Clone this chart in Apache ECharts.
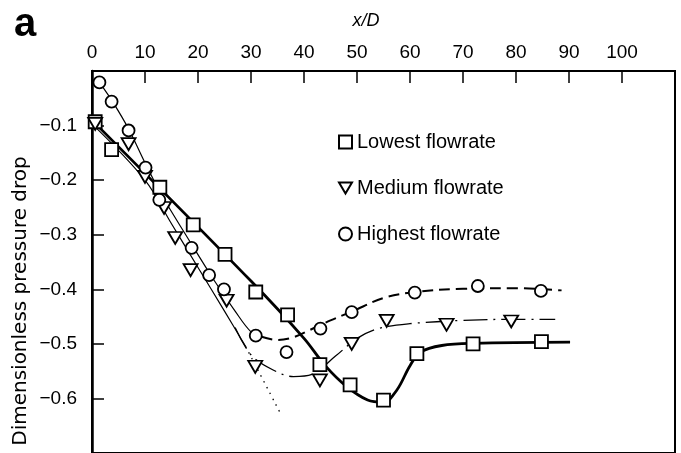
<!DOCTYPE html>
<html>
<head>
<meta charset="utf-8">
<script src="https://cdn.jsdelivr.net/npm/echarts@6/dist/echarts.min.js"></script>
<style>
  html, body { margin: 0; padding: 0; background: #fff; }
  #chart { width: 681px; height: 453px; }
</style>
</head>
<body>
<div id="chart"></div>
<script>
// measured points (x/D, pressure drop)
var lowX = [0.6, 3.7, 12.8, 19.1, 25.1, 30.9, 36.9, 43.0, 48.7, 55.0, 61.3, 71.9, 84.8];
var lowY = [-0.093, -0.144, -0.213, -0.282, -0.336, -0.405, -0.447, -0.538, -0.575, -0.603, -0.518, -0.500, -0.496];

var medX = [0.6, 6.9, 10.0, 13.6, 15.7, 18.6, 25.4, 30.8, 43.0, 49.0, 55.6, 66.9, 79.1];
var medY = [-0.097, -0.134, -0.194, -0.251, -0.306, -0.365, -0.421, -0.542, -0.567, -0.500, -0.458, -0.465, -0.459];

var highX = [1.4, 3.7, 6.9, 10.1, 12.7, 18.8, 22.1, 24.9, 30.9, 36.7, 43.1, 49.0, 60.9, 72.8, 84.7];
var highY = [-0.021, -0.056, -0.109, -0.177, -0.236, -0.324, -0.374, -0.400, -0.485, -0.515, -0.472, -0.442, -0.406, -0.394, -0.403];

// hand drawn fit curves
var lowCurve = [[0, -0.09], [30, -0.385], [40, -0.49], [44, -0.54], [48, -0.578], [52, -0.603], [55, -0.607],
  [57.5, -0.585], [60, -0.54], [62, -0.515], [66, -0.503], [72, -0.499], [90.2, -0.497]];
var highCurveSolid = [[1.4, -0.021], [4, -0.058], [7, -0.108], [10, -0.168], [13, -0.225], [18, -0.305],
  [23, -0.383], [27, -0.44], [30, -0.478], [32, -0.487]];
var highCurveDash = [[32, -0.487], [35, -0.493], [38, -0.488], [41, -0.475], [45, -0.457], [49, -0.441],
  [55, -0.416], [61, -0.405], [70, -0.399], [80, -0.398], [88.6, -0.402]];
var medCurveSolid = [[0, -0.097], [10, -0.2], [15, -0.28], [20, -0.36], [25, -0.44], [29, -0.505]];
var medCurveDot = [[29, -0.505], [35.8, -0.632]];
var medCurveDashDot = [[27, -0.47], [30, -0.52], [34, -0.547], [38, -0.56], [41.5, -0.556], [46, -0.522],
  [50, -0.49], [54, -0.472], [60, -0.463], [70, -0.457], [80, -0.455], [87.4, -0.455]];

var xTicks = [0, 10, 20, 30, 40, 50, 60, 70, 80, 90, 100];
var yTicks = [-0.1, -0.2, -0.3, -0.4, -0.5, -0.6];

var FONT = 'Liberation Sans';

function zip(xs, ys) {
    return xs.map(function (x, i) { return [x, ys[i]]; });
}

function curve(data, width, type) {
    return {
        type: 'line',
        data: data,
        showSymbol: false,
        smooth: 0.35,
        silent: true,
        z: 2,
        lineStyle: { color: '#000', width: width, type: type }
    };
}

function marks(name, xs, ys, symbol, size, rotate) {
    return {
        name: name,
        type: 'scatter',
        data: zip(xs, ys),
        symbol: symbol,
        symbolSize: size,
        symbolRotate: rotate || 0,
        z: 5,
        itemStyle: { color: '#fff', borderColor: '#000', borderWidth: 1.8, opacity: 1 }
    };
}

var chart = echarts.init(document.getElementById('chart'));

chart.setOption({
    animation: false,
    backgroundColor: '#fff',
    grid: {
        left: 92, right: 6, top: 71, bottom: -2,
        show: true, borderColor: '#000', borderWidth: 2
    },
    xAxis: {
        type: 'value',
        position: 'top',
        min: 0, max: 110, interval: 10,
        axisLine: { show: true, lineStyle: { color: '#000', width: 2 } },
        axisTick: { show: true, inside: true, length: 12, lineStyle: { color: '#000', width: 1.5 } },
        axisLabel: {
            margin: 9, color: '#000', fontFamily: FONT, fontSize: 19,
            formatter: function (v) { return xTicks.indexOf(v) >= 0 ? String(v) : ''; }
        },
        splitLine: { show: false }
    },
    yAxis: {
        type: 'value',
        min: -0.7, max: 0, interval: 0.1,
        axisLine: { show: true, lineStyle: { color: '#000', width: 2.5 } },
        axisTick: { show: true, inside: true, length: 12, lineStyle: { color: '#000', width: 1.5 } },
        axisLabel: {
            margin: 15, color: '#000', fontFamily: FONT, fontSize: 19,
            formatter: function (v) {
                var r = Math.round(v * 10) / 10;
                return yTicks.indexOf(r) >= 0 ? '\u2212' + Math.abs(r).toFixed(1) : '';
            }
        },
        splitLine: { show: false }
    },
    legend: {
        data: [
            { name: 'Lowest flowrate' },
            { name: 'Medium flowrate', icon: 'path://M0,0L14,0L7,12Z' },
            { name: 'Highest flowrate' }
        ],
        orient: 'vertical',
        left: 333, top: 127,
        itemWidth: 13, itemHeight: 13,
        itemGap: 26,
        selectedMode: false,
        textStyle: { color: '#000', fontFamily: FONT, fontSize: 20 }
    },
    graphic: [
        {
            type: 'text', left: 14, top: 5,
            style: { text: 'a', font: 'bold 40px "Liberation Sans"', fill: '#000' }
        },
        {
            type: 'text', x: 366, y: 21,
            style: { text: 'x/D', font: 'italic 18px "Liberation Sans"', fill: '#000', align: 'center', verticalAlign: 'middle' }
        },
        {
            type: 'text', x: 21, y: 301, rotation: Math.PI / 2,
            style: { text: 'Dimensionless pressure drop', font: '20px "DejaVu Sans"', fill: '#000', align: 'center', verticalAlign: 'middle' }
        }
    ],
    series: [
        curve(lowCurve, 2.8, 'solid'),
        curve(highCurveSolid, 1.2, 'solid'),
        curve(highCurveDash, 2, [11, 6]),
        curve(medCurveSolid, 1.2, 'solid'),
        curve(medCurveDot, 1.3, [1.5, 5]),
        curve(medCurveDashDot, 1.3, [24, 6, 2, 6]),
        marks('Lowest flowrate', lowX, lowY, 'rect', 13),
        marks('Medium flowrate', medX, medY, 'triangle', [14, 12], 180),
        marks('Highest flowrate', highX, highY, 'circle', 12)
    ]
});
</script>
</body>
</html>
